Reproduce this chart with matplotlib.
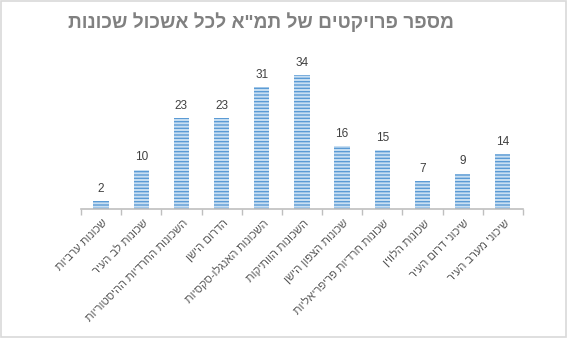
import matplotlib
matplotlib.use("Agg")
import matplotlib.pyplot as plt
from matplotlib.patches import Rectangle

plt.rcParams['font.family'] = ['Liberation Sans', 'DejaVu Sans']
plt.rcParams['hatch.linewidth'] = 1.0

title = 'מספר פרויקטים של תמ"א לכל אשכול שכונות'
clusters = [
    'שכונות ערביות',
    'שכונות לב העיר',
    'השכונות החרדיות ההיסטוריות',
    'הדרום הישן',
    'השכונות האנגלו-סקסיות',
    'השכונות הוותיקות',
    'שכונות הצפון הישן',
    'שכונות חרדיות פריפריאליות',
    'שכונות הלווין',
    'שיכוני דרום העיר',
    'שיכוני מערב העיר',
]
projects = [2, 10, 23, 23, 31, 34, 16, 15, 7, 9, 14]


def rtl(s):
    # matplotlib has no bidi support, so lay Hebrew out visually
    return s[::-1]


fig = plt.figure(figsize=(5.68, 3.38), dpi=100)
fig.patches.append(Rectangle((0.002, 0.003), 0.995, 0.993, transform=fig.transFigure,
                             fill=False, edgecolor='#d9d9d9', linewidth=1.2))

ax = fig.add_axes([0.1426, 0.3817, 0.778, 0.466])
x = range(len(projects))
bars = ax.bar(x, projects, width=0.38, color='#c9dff2', edgecolor='#5b9bd5',
              hatch='-----', linewidth=0)

for xi, v in zip(x, projects):
    ax.text(xi, v + 1.6, str(v), ha='center', va='bottom', fontsize=8.5, color='#404040')

ax.set_xlim(-0.5, len(projects) - 0.5)
ax.set_ylim(0, 40)
ax.set_yticks([])
for side in ['left', 'right', 'top']:
    ax.spines[side].set_visible(False)
ax.spines['bottom'].set_color('#bfbfbf')
ax.spines['bottom'].set_linewidth(1.2)

ax.set_xticks([i - 0.5 for i in range(len(projects) + 1)])
ax.set_xticklabels([])
ax.tick_params(axis='x', length=4, color='#bfbfbf', width=1.0)

for xi, name in zip(x, clusters):
    ax.annotate(rtl(name), xy=(xi + 0.12, 0), xycoords=('data', 'axes fraction'),
                xytext=(0, -9), textcoords='offset points', rotation=45,
                rotation_mode='anchor', ha='right', va='center',
                fontsize=8, color='#595959')

fig.text(0.46, 0.935, rtl(title), ha='center', va='center', fontsize=13.8,
         fontweight='bold', color='#808080')

fig.savefig('out.png', dpi=100)
